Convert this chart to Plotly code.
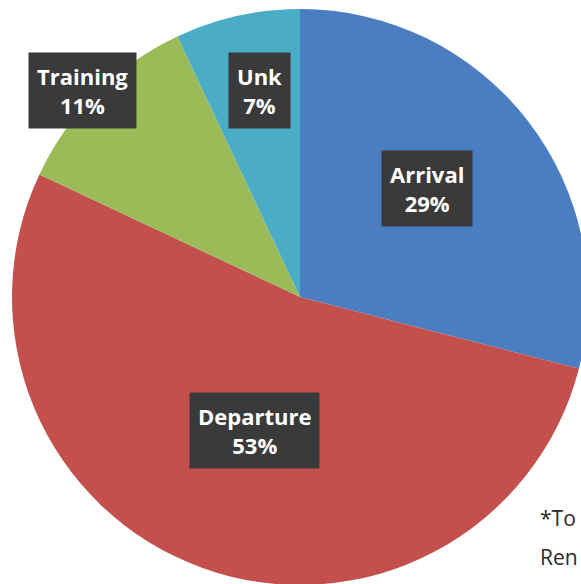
import math
import plotly.graph_objects as go

# ---- data ----
categories = ["Arrival", "Departure", "Training", "Unk"]
values = [29, 53, 11, 7]
colors = ["#4A7EC1", "#C4504E", "#9BBB59", "#4BACC6"]
footnote_lines = ["*To", "Ren"]

# ---- layout geometry (pixels) ----
W, H = 700, 650
CX, CY, R = 300, 297, 288
label_radius = {"Arrival": 0.58, "Departure": 0.49, "Training": 1.04, "Unk": 0.73}
label_shift = {"Arrival": -2.5, "Departure": -1.2, "Training": -1.5, "Unk": 1.5}

fig = go.Figure(go.Pie(
    labels=categories,
    values=values,
    sort=False,
    direction="clockwise",
    rotation=0,
    marker=dict(colors=colors, line=dict(width=0)),
    textinfo="none",
    hoverinfo="label+percent",
    showlegend=False,
    domain=dict(x=[(CX - R) / W, (CX + R) / W],
                y=[1 - (CY + R) / H, 1 - (CY - R) / H]),
))

# data-driven label positions at each slice's mid-angle
total = sum(values)
cum = 0
for cat, v in zip(categories, values):
    mid = (cum + v / 2) / total * 360 + label_shift[cat]
    cum += v
    f = label_radius[cat]
    px = CX + f * R * math.sin(math.radians(mid))
    py = CY - f * R * math.cos(math.radians(mid))
    pct = round(v / total * 100)
    fig.add_annotation(
        x=px / W, y=1 - py / H, xref="paper", yref="paper",
        text=f"<b>{cat}</b><br><b>{pct}%</b>",
        showarrow=False, xanchor="center", yanchor="middle",
        font=dict(family="Open Sans, sans-serif", size=22, color="white"),
        bgcolor="#3a3a3a", borderpad=8, align="center",
    )

for i, line in enumerate(footnote_lines):
    fig.add_annotation(
        x=538 / W, y=1 - (518 + i * 39) / H, xref="paper", yref="paper",
        text=line, showarrow=False, xanchor="left", yanchor="middle",
        font=dict(family="Open Sans, sans-serif", size=21, color="#2a2a2a"),
    )

fig.update_layout(
    width=W, height=H, autosize=False,
    margin=dict(l=0, r=0, t=0, b=0),
    paper_bgcolor="white", plot_bgcolor="white",
)

fig.write_html("out.html", config={"displayModeBar": False},
               post_script="document.body.style.margin='0';document.body.style.overflow='hidden';")
